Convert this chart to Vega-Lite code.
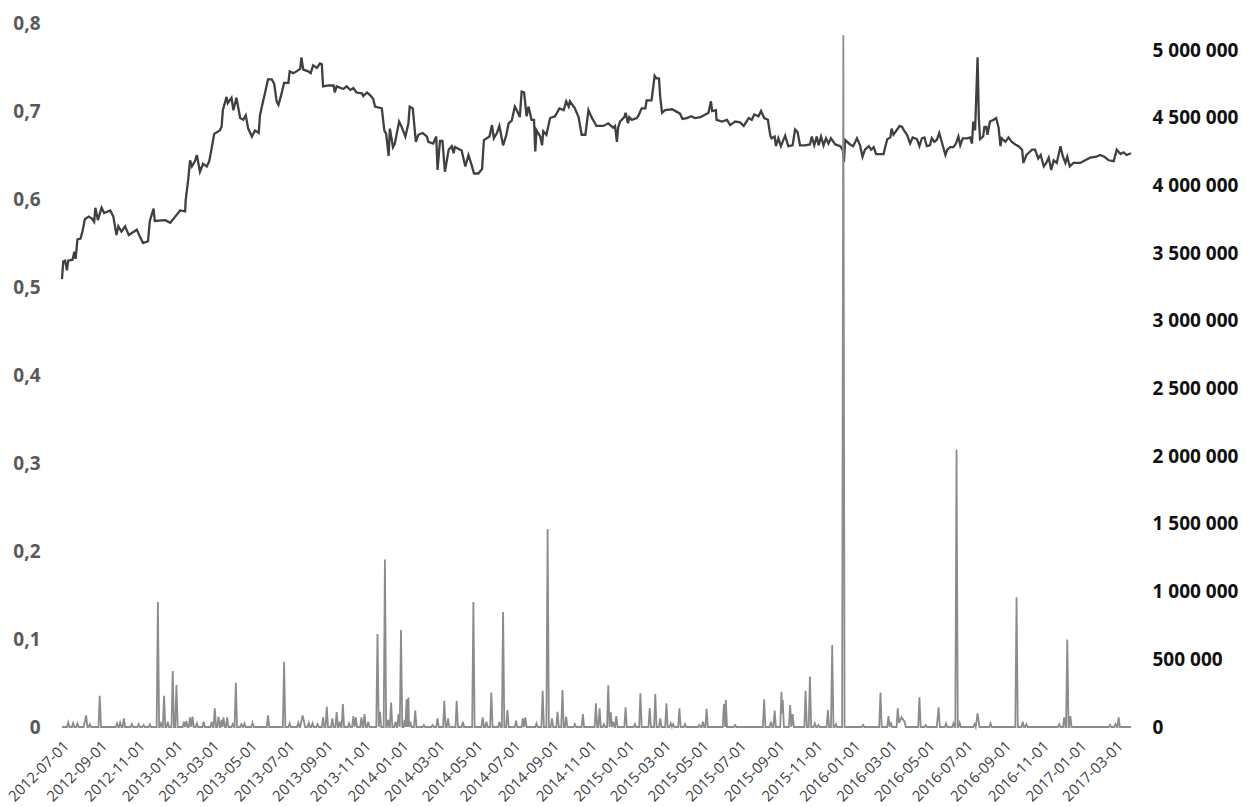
{
"$schema": "https://vega.github.io/schema/vega-lite/v6.json",
"width": 1069, "height": 704,
"autosize": {"type": "none"},
"padding": {"left": 62, "top": 23, "right": 116, "bottom": 80},
"background": "white",
"config": {"view": {"stroke": null}, "font": "Open Sans", "axisX": {"labelOverlap": false}},
"datasets": {
"price": [
{"date":"2012-07-01","price":0.509},{"date":"2012-07-03","price":0.529},{"date":"2012-07-06","price":0.530},{"date":"2012-07-09","price":0.519},{"date":"2012-07-11","price":0.530},{"date":"2012-07-18","price":0.531},{"date":"2012-07-21","price":0.540},{"date":"2012-07-23","price":0.532},{"date":"2012-07-26","price":0.554},{"date":"2012-07-31","price":0.555},
{"date":"2012-08-03","price":0.563},{"date":"2012-08-07","price":0.577},{"date":"2012-08-13","price":0.580},{"date":"2012-08-18","price":0.578},{"date":"2012-08-22","price":0.574},{"date":"2012-08-24","price":0.590},{"date":"2012-08-28","price":0.576},{"date":"2012-09-03","price":0.590},{"date":"2012-09-07","price":0.584},{"date":"2012-09-17","price":0.587},
{"date":"2012-09-22","price":0.580},{"date":"2012-09-27","price":0.559},{"date":"2012-09-30","price":0.569},{"date":"2012-10-05","price":0.563},{"date":"2012-10-11","price":0.569},{"date":"2012-10-17","price":0.559},{"date":"2012-10-30","price":0.565},{"date":"2012-11-04","price":0.557},{"date":"2012-11-09","price":0.550},{"date":"2012-11-17","price":0.552},
{"date":"2012-11-20","price":0.575},{"date":"2012-11-26","price":0.589},{"date":"2012-11-28","price":0.575},{"date":"2012-12-15","price":0.576},{"date":"2012-12-23","price":0.573},{"date":"2012-12-31","price":0.580},{"date":"2013-01-08","price":0.587},{"date":"2013-01-16","price":0.586},{"date":"2013-01-17","price":0.599},{"date":"2013-01-21","price":0.622},
{"date":"2013-01-24","price":0.644},{"date":"2013-01-27","price":0.637},{"date":"2013-02-01","price":0.643},{"date":"2013-02-04","price":0.650},{"date":"2013-02-09","price":0.631},{"date":"2013-02-14","price":0.640},{"date":"2013-02-20","price":0.637},{"date":"2013-02-24","price":0.643},{"date":"2013-02-28","price":0.658},{"date":"2013-03-04","price":0.674},
{"date":"2013-03-13","price":0.678},{"date":"2013-03-16","price":0.682},{"date":"2013-03-18","price":0.701},{"date":"2013-03-24","price":0.716},{"date":"2013-03-26","price":0.709},{"date":"2013-04-01","price":0.715},{"date":"2013-04-04","price":0.701},{"date":"2013-04-09","price":0.715},{"date":"2013-04-15","price":0.692},{"date":"2013-04-20","price":0.690},
{"date":"2013-04-24","price":0.695},{"date":"2013-04-28","price":0.680},{"date":"2013-05-04","price":0.671},{"date":"2013-05-09","price":0.678},{"date":"2013-05-15","price":0.675},{"date":"2013-05-17","price":0.695},{"date":"2013-05-22","price":0.711},{"date":"2013-05-25","price":0.720},{"date":"2013-05-30","price":0.736},{"date":"2013-06-05","price":0.736},
{"date":"2013-06-09","price":0.731},{"date":"2013-06-13","price":0.711},{"date":"2013-06-16","price":0.707},{"date":"2013-06-21","price":0.720},{"date":"2013-06-25","price":0.732},{"date":"2013-07-02","price":0.732},{"date":"2013-07-04","price":0.745},{"date":"2013-07-10","price":0.743},{"date":"2013-07-15","price":0.745},{"date":"2013-07-21","price":0.748},
{"date":"2013-07-23","price":0.761},{"date":"2013-07-26","price":0.747},{"date":"2013-08-03","price":0.745},{"date":"2013-08-07","price":0.743},{"date":"2013-08-11","price":0.752},{"date":"2013-08-17","price":0.749},{"date":"2013-08-22","price":0.754},{"date":"2013-08-25","price":0.753},{"date":"2013-08-27","price":0.728},{"date":"2013-09-05","price":0.729},
{"date":"2013-09-13","price":0.729},{"date":"2013-09-15","price":0.721},{"date":"2013-09-18","price":0.728},{"date":"2013-09-29","price":0.725},{"date":"2013-10-04","price":0.728},{"date":"2013-10-10","price":0.724},{"date":"2013-10-15","price":0.726},{"date":"2013-10-20","price":0.721},{"date":"2013-10-29","price":0.720},{"date":"2013-10-31","price":0.717},
{"date":"2013-11-06","price":0.721},{"date":"2013-11-11","price":0.718},{"date":"2013-11-16","price":0.714},{"date":"2013-11-19","price":0.705},{"date":"2013-11-30","price":0.703},{"date":"2013-12-04","price":0.678},{"date":"2013-12-07","price":0.674},{"date":"2013-12-11","price":0.649},{"date":"2013-12-13","price":0.680},{"date":"2013-12-18","price":0.659},
{"date":"2013-12-21","price":0.663},{"date":"2013-12-28","price":0.688},{"date":"2014-01-01","price":0.682},{"date":"2014-01-07","price":0.671},{"date":"2014-01-12","price":0.686},{"date":"2014-01-14","price":0.705},{"date":"2014-01-19","price":0.703},{"date":"2014-01-24","price":0.665},{"date":"2014-01-28","price":0.673},{"date":"2014-02-04","price":0.675},
{"date":"2014-02-11","price":0.671},{"date":"2014-02-13","price":0.665},{"date":"2014-02-21","price":0.663},{"date":"2014-02-26","price":0.671},{"date":"2014-02-28","price":0.633},{"date":"2014-03-04","price":0.666},{"date":"2014-03-08","price":0.666},{"date":"2014-03-12","price":0.631},{"date":"2014-03-18","price":0.656},{"date":"2014-03-23","price":0.660},
{"date":"2014-03-26","price":0.652},{"date":"2014-03-28","price":0.659},{"date":"2014-04-08","price":0.655},{"date":"2014-04-14","price":0.637},{"date":"2014-04-19","price":0.650},{"date":"2014-04-24","price":0.639},{"date":"2014-04-28","price":0.629},{"date":"2014-05-05","price":0.629},{"date":"2014-05-11","price":0.634},{"date":"2014-05-14","price":0.667},
{"date":"2014-05-23","price":0.671},{"date":"2014-05-27","price":0.684},{"date":"2014-05-30","price":0.669},{"date":"2014-06-04","price":0.675},{"date":"2014-06-08","price":0.683},{"date":"2014-06-14","price":0.661},{"date":"2014-06-19","price":0.672},{"date":"2014-06-23","price":0.686},{"date":"2014-06-28","price":0.689},{"date":"2014-07-03","price":0.705},
{"date":"2014-07-06","price":0.701},{"date":"2014-07-11","price":0.693},{"date":"2014-07-14","price":0.722},{"date":"2014-07-18","price":0.721},{"date":"2014-07-22","price":0.694},{"date":"2014-07-25","price":0.705},{"date":"2014-07-30","price":0.690},{"date":"2014-08-03","price":0.690},{"date":"2014-08-05","price":0.654},{"date":"2014-08-07","price":0.678},
{"date":"2014-08-13","price":0.671},{"date":"2014-08-16","price":0.661},{"date":"2014-08-18","price":0.677},{"date":"2014-08-23","price":0.673},{"date":"2014-08-29","price":0.692},{"date":"2014-09-06","price":0.694},{"date":"2014-09-13","price":0.703},{"date":"2014-09-20","price":0.701},{"date":"2014-09-24","price":0.711},{"date":"2014-09-28","price":0.705},
{"date":"2014-09-30","price":0.711},{"date":"2014-10-08","price":0.703},{"date":"2014-10-14","price":0.693},{"date":"2014-10-19","price":0.673},{"date":"2014-10-25","price":0.673},{"date":"2014-10-30","price":0.701},{"date":"2014-11-04","price":0.693},{"date":"2014-11-12","price":0.683},{"date":"2014-11-23","price":0.683},{"date":"2014-12-01","price":0.686},
{"date":"2014-12-09","price":0.681},{"date":"2014-12-12","price":0.683},{"date":"2014-12-15","price":0.665},{"date":"2014-12-17","price":0.681},{"date":"2014-12-20","price":0.688},{"date":"2014-12-27","price":0.693},{"date":"2014-12-29","price":0.698},{"date":"2015-01-02","price":0.686},{"date":"2015-01-04","price":0.693},{"date":"2015-01-08","price":0.690},
{"date":"2015-01-16","price":0.692},{"date":"2015-01-19","price":0.695},{"date":"2015-01-24","price":0.703},{"date":"2015-01-30","price":0.703},{"date":"2015-02-01","price":0.712},{"date":"2015-02-09","price":0.712},{"date":"2015-02-14","price":0.740},{"date":"2015-02-17","price":0.737},{"date":"2015-02-21","price":0.737},{"date":"2015-02-23","price":0.716},
{"date":"2015-02-26","price":0.698},{"date":"2015-03-03","price":0.701},{"date":"2015-03-14","price":0.702},{"date":"2015-03-22","price":0.699},{"date":"2015-03-27","price":0.697},{"date":"2015-03-31","price":0.691},{"date":"2015-04-07","price":0.692},{"date":"2015-04-14","price":0.694},{"date":"2015-04-20","price":0.692},{"date":"2015-04-29","price":0.693},
{"date":"2015-05-07","price":0.696},{"date":"2015-05-12","price":0.698},{"date":"2015-05-16","price":0.711},{"date":"2015-05-18","price":0.700},{"date":"2015-05-24","price":0.701},{"date":"2015-05-25","price":0.690},{"date":"2015-06-03","price":0.688},{"date":"2015-06-11","price":0.690},{"date":"2015-06-16","price":0.684},{"date":"2015-06-24","price":0.688},
{"date":"2015-07-02","price":0.687},{"date":"2015-07-08","price":0.683},{"date":"2015-07-16","price":0.692},{"date":"2015-07-21","price":0.690},{"date":"2015-07-25","price":0.696},{"date":"2015-08-01","price":0.694},{"date":"2015-08-05","price":0.700},{"date":"2015-08-10","price":0.692},{"date":"2015-08-16","price":0.690},{"date":"2015-08-20","price":0.672},
{"date":"2015-08-22","price":0.669},{"date":"2015-08-27","price":0.671},{"date":"2015-08-29","price":0.660},{"date":"2015-09-02","price":0.669},{"date":"2015-09-06","price":0.660},{"date":"2015-09-13","price":0.672},{"date":"2015-09-18","price":0.660},{"date":"2015-09-25","price":0.661},{"date":"2015-09-29","price":0.679},{"date":"2015-10-03","price":0.676},
{"date":"2015-10-07","price":0.661},{"date":"2015-10-15","price":0.661},{"date":"2015-10-23","price":0.662},{"date":"2015-10-26","price":0.671},{"date":"2015-10-30","price":0.661},{"date":"2015-11-03","price":0.671},{"date":"2015-11-06","price":0.661},{"date":"2015-11-10","price":0.671},{"date":"2015-11-14","price":0.661},{"date":"2015-11-18","price":0.669},
{"date":"2015-11-22","price":0.663},{"date":"2015-11-26","price":0.669},{"date":"2015-12-03","price":0.662},{"date":"2015-12-11","price":0.660},{"date":"2015-12-15","price":0.656},{"date":"2015-12-17","price":0.642},{"date":"2015-12-19","price":0.667},{"date":"2015-12-27","price":0.662},{"date":"2016-01-01","price":0.660},{"date":"2016-01-07","price":0.669},
{"date":"2016-01-12","price":0.661},{"date":"2016-01-16","price":0.648},{"date":"2016-01-20","price":0.656},{"date":"2016-01-26","price":0.660},{"date":"2016-01-30","price":0.656},{"date":"2016-02-03","price":0.659},{"date":"2016-02-07","price":0.651},{"date":"2016-02-19","price":0.651},{"date":"2016-02-22","price":0.660},{"date":"2016-02-25","price":0.668},
{"date":"2016-03-01","price":0.670},{"date":"2016-03-03","price":0.680},{"date":"2016-03-06","price":0.673},{"date":"2016-03-12","price":0.679},{"date":"2016-03-16","price":0.683},{"date":"2016-03-20","price":0.682},{"date":"2016-03-23","price":0.678},{"date":"2016-03-28","price":0.673},{"date":"2016-04-02","price":0.663},{"date":"2016-04-06","price":0.670},
{"date":"2016-04-13","price":0.668},{"date":"2016-04-17","price":0.660},{"date":"2016-04-21","price":0.669},{"date":"2016-04-25","price":0.670},{"date":"2016-04-29","price":0.660},{"date":"2016-05-04","price":0.661},{"date":"2016-05-07","price":0.669},{"date":"2016-05-11","price":0.665},{"date":"2016-05-15","price":0.667},{"date":"2016-05-19","price":0.675},
{"date":"2016-05-23","price":0.665},{"date":"2016-05-29","price":0.650},{"date":"2016-06-01","price":0.656},{"date":"2016-06-06","price":0.659},{"date":"2016-06-11","price":0.659},{"date":"2016-06-15","price":0.663},{"date":"2016-06-19","price":0.671},{"date":"2016-06-22","price":0.661},{"date":"2016-06-26","price":0.669},{"date":"2016-07-03","price":0.669},
{"date":"2016-07-08","price":0.670},{"date":"2016-07-11","price":0.663},{"date":"2016-07-13","price":0.688},{"date":"2016-07-16","price":0.678},{"date":"2016-07-20","price":0.761},{"date":"2016-07-22","price":0.692},{"date":"2016-07-24","price":0.668},{"date":"2016-07-29","price":0.671},{"date":"2016-07-31","price":0.682},{"date":"2016-08-03","price":0.682},
{"date":"2016-08-05","price":0.673},{"date":"2016-08-09","price":0.688},{"date":"2016-08-15","price":0.690},{"date":"2016-08-19","price":0.692},{"date":"2016-08-23","price":0.681},{"date":"2016-08-26","price":0.660},{"date":"2016-08-28","price":0.669},{"date":"2016-09-03","price":0.665},{"date":"2016-09-08","price":0.670},{"date":"2016-09-13","price":0.665},
{"date":"2016-09-19","price":0.662},{"date":"2016-09-24","price":0.660},{"date":"2016-09-30","price":0.656},{"date":"2016-10-02","price":0.641},{"date":"2016-10-07","price":0.650},{"date":"2016-10-10","price":0.652},{"date":"2016-10-16","price":0.656},{"date":"2016-10-21","price":0.656},{"date":"2016-10-26","price":0.646},{"date":"2016-10-30","price":0.650},
{"date":"2016-11-04","price":0.637},{"date":"2016-11-08","price":0.641},{"date":"2016-11-12","price":0.647},{"date":"2016-11-16","price":0.633},{"date":"2016-11-20","price":0.644},{"date":"2016-11-25","price":0.641},{"date":"2016-12-01","price":0.660},{"date":"2016-12-05","price":0.648},{"date":"2016-12-09","price":0.641},{"date":"2016-12-12","price":0.648},
{"date":"2016-12-16","price":0.637},{"date":"2016-12-22","price":0.641},{"date":"2017-01-02","price":0.641},{"date":"2017-01-10","price":0.644},{"date":"2017-01-18","price":0.647},{"date":"2017-01-28","price":0.648},{"date":"2017-02-03","price":0.650},{"date":"2017-02-10","price":0.648},{"date":"2017-02-17","price":0.644},{"date":"2017-02-25","price":0.643},
{"date":"2017-03-02","price":0.656},{"date":"2017-03-08","price":0.651},{"date":"2017-03-13","price":0.653},{"date":"2017-03-18","price":0.650},{"date":"2017-03-25","price":0.652}
],
"vol": [
{"date":"2012-07-01","vol":0},{"date":"2012-07-09","vol":0},{"date":"2012-07-11","vol":34000},{"date":"2012-07-13","vol":0},{"date":"2012-07-17","vol":0},{"date":"2012-07-19","vol":29000},{"date":"2012-07-21","vol":0},{"date":"2012-07-24","vol":0},{"date":"2012-07-26","vol":27000},{"date":"2012-07-28","vol":0},
{"date":"2012-08-05","vol":0},{"date":"2012-08-07","vol":39000},{"date":"2012-08-09","vol":86000},{"date":"2012-08-11","vol":0},{"date":"2012-08-13","vol":0},{"date":"2012-08-15","vol":22000},{"date":"2012-08-17","vol":0},{"date":"2012-08-29","vol":0},{"date":"2012-08-31","vol":231000},{"date":"2012-09-02","vol":0},
{"date":"2012-09-26","vol":0},{"date":"2012-09-28","vol":27000},{"date":"2012-09-30","vol":0},{"date":"2012-10-01","vol":0},{"date":"2012-10-03","vol":34000},{"date":"2012-10-05","vol":0},{"date":"2012-10-07","vol":0},{"date":"2012-10-09","vol":64000},{"date":"2012-10-11","vol":0},{"date":"2012-10-20","vol":0},
{"date":"2012-10-22","vol":22000},{"date":"2012-10-24","vol":0},{"date":"2012-10-31","vol":0},{"date":"2012-11-02","vol":22000},{"date":"2012-11-04","vol":0},{"date":"2012-11-08","vol":0},{"date":"2012-11-10","vol":15000},{"date":"2012-11-12","vol":0},{"date":"2012-11-18","vol":0},{"date":"2012-11-20","vol":20000},
{"date":"2012-11-22","vol":0},{"date":"2012-12-01","vol":0},{"date":"2012-12-03","vol":923000},{"date":"2012-12-05","vol":0},{"date":"2012-12-06","vol":0},{"date":"2012-12-08","vol":27000},{"date":"2012-12-10","vol":0},{"date":"2012-12-11","vol":0},{"date":"2012-12-13","vol":231000},{"date":"2012-12-15","vol":0},
{"date":"2012-12-17","vol":0},{"date":"2012-12-19","vol":39000},{"date":"2012-12-21","vol":0},{"date":"2012-12-25","vol":0},{"date":"2012-12-27","vol":413000},{"date":"2012-12-29","vol":0},{"date":"2012-12-31","vol":0},{"date":"2013-01-02","vol":310000},{"date":"2013-01-04","vol":0},{"date":"2013-01-12","vol":0},
{"date":"2013-01-14","vol":39000},{"date":"2013-01-16","vol":0},{"date":"2013-01-18","vol":44000},{"date":"2013-01-20","vol":0},{"date":"2013-01-22","vol":0},{"date":"2013-01-24","vol":71000},{"date":"2013-01-26","vol":0},{"date":"2013-01-28","vol":76000},{"date":"2013-01-30","vol":0},{"date":"2013-02-02","vol":0},
{"date":"2013-02-04","vol":27000},{"date":"2013-02-06","vol":0},{"date":"2013-02-13","vol":0},{"date":"2013-02-15","vol":39000},{"date":"2013-02-17","vol":0},{"date":"2013-02-26","vol":0},{"date":"2013-02-28","vol":39000},{"date":"2013-03-02","vol":0},{"date":"2013-03-03","vol":0},{"date":"2013-03-05","vol":138000},
{"date":"2013-03-07","vol":0},{"date":"2013-03-09","vol":0},{"date":"2013-03-11","vol":76000},{"date":"2013-03-13","vol":0},{"date":"2013-03-14","vol":0},{"date":"2013-03-16","vol":52000},{"date":"2013-03-17","vol":0},{"date":"2013-03-19","vol":71000},{"date":"2013-03-21","vol":0},{"date":"2013-03-23","vol":0},
{"date":"2013-03-25","vol":71000},{"date":"2013-03-27","vol":0},{"date":"2013-04-01","vol":0},{"date":"2013-04-03","vol":22000},{"date":"2013-04-05","vol":0},{"date":"2013-04-06","vol":0},{"date":"2013-04-08","vol":327000},{"date":"2013-04-10","vol":0},{"date":"2013-04-15","vol":0},{"date":"2013-04-17","vol":22000},
{"date":"2013-04-19","vol":0},{"date":"2013-04-20","vol":0},{"date":"2013-04-22","vol":27000},{"date":"2013-04-24","vol":0},{"date":"2013-05-03","vol":0},{"date":"2013-05-05","vol":32000},{"date":"2013-05-07","vol":0},{"date":"2013-05-28","vol":0},{"date":"2013-05-30","vol":86000},{"date":"2013-06-01","vol":0},
{"date":"2013-06-23","vol":0},{"date":"2013-06-25","vol":480000},{"date":"2013-06-27","vol":0},{"date":"2013-07-02","vol":0},{"date":"2013-07-04","vol":27000},{"date":"2013-07-06","vol":0},{"date":"2013-07-16","vol":0},{"date":"2013-07-18","vol":32000},{"date":"2013-07-20","vol":0},{"date":"2013-07-21","vol":0},
{"date":"2013-07-25","vol":86000},{"date":"2013-07-29","vol":0},{"date":"2013-08-02","vol":0},{"date":"2013-08-04","vol":32000},{"date":"2013-08-06","vol":0},{"date":"2013-08-08","vol":0},{"date":"2013-08-10","vol":27000},{"date":"2013-08-12","vol":0},{"date":"2013-08-16","vol":0},{"date":"2013-08-18","vol":22000},
{"date":"2013-08-20","vol":0},{"date":"2013-08-25","vol":0},{"date":"2013-08-27","vol":71000},{"date":"2013-08-29","vol":0},{"date":"2013-08-31","vol":0},{"date":"2013-09-02","vol":150000},{"date":"2013-09-04","vol":0},{"date":"2013-09-09","vol":0},{"date":"2013-09-11","vol":64000},{"date":"2013-09-13","vol":0},
{"date":"2013-09-16","vol":0},{"date":"2013-09-18","vol":111000},{"date":"2013-09-20","vol":0},{"date":"2013-09-21","vol":0},{"date":"2013-09-23","vol":39000},{"date":"2013-09-25","vol":0},{"date":"2013-09-26","vol":0},{"date":"2013-09-28","vol":170000},{"date":"2013-09-30","vol":0},{"date":"2013-10-06","vol":0},
{"date":"2013-10-08","vol":27000},{"date":"2013-10-10","vol":0},{"date":"2013-10-13","vol":0},{"date":"2013-10-15","vol":81000},{"date":"2013-10-17","vol":0},{"date":"2013-10-19","vol":71000},{"date":"2013-10-21","vol":0},{"date":"2013-10-26","vol":0},{"date":"2013-10-28","vol":71000},{"date":"2013-10-30","vol":0},
{"date":"2013-10-31","vol":0},{"date":"2013-11-02","vol":96000},{"date":"2013-11-04","vol":0},{"date":"2013-11-06","vol":0},{"date":"2013-11-08","vol":39000},{"date":"2013-11-10","vol":0},{"date":"2013-11-21","vol":0},{"date":"2013-11-23","vol":687000},{"date":"2013-11-25","vol":0},{"date":"2013-11-27","vol":113000},
{"date":"2013-11-29","vol":0},{"date":"2013-12-03","vol":0},{"date":"2013-12-05","vol":1238000},{"date":"2013-12-07","vol":0},{"date":"2013-12-08","vol":0},{"date":"2013-12-10","vol":52000},{"date":"2013-12-12","vol":0},{"date":"2013-12-13","vol":0},{"date":"2013-12-15","vol":180000},{"date":"2013-12-17","vol":0},
{"date":"2013-12-20","vol":0},{"date":"2013-12-22","vol":39000},{"date":"2013-12-24","vol":0},{"date":"2013-12-25","vol":0},{"date":"2013-12-27","vol":96000},{"date":"2013-12-29","vol":0},{"date":"2013-12-31","vol":716000},{"date":"2014-01-02","vol":0},{"date":"2014-01-04","vol":0},{"date":"2014-01-06","vol":52000},
{"date":"2014-01-07","vol":0},{"date":"2014-01-09","vol":204000},{"date":"2014-01-10","vol":0},{"date":"2014-01-12","vol":217000},{"date":"2014-01-13","vol":0},{"date":"2014-01-15","vol":39000},{"date":"2014-01-17","vol":0},{"date":"2014-01-21","vol":0},{"date":"2014-01-23","vol":121000},{"date":"2014-01-25","vol":0},
{"date":"2014-02-04","vol":0},{"date":"2014-02-06","vol":15000},{"date":"2014-02-08","vol":0},{"date":"2014-02-18","vol":0},{"date":"2014-02-20","vol":15000},{"date":"2014-02-22","vol":0},{"date":"2014-02-26","vol":0},{"date":"2014-02-28","vol":64000},{"date":"2014-03-02","vol":0},{"date":"2014-03-09","vol":0},
{"date":"2014-03-11","vol":194000},{"date":"2014-03-13","vol":0},{"date":"2014-03-15","vol":0},{"date":"2014-03-17","vol":64000},{"date":"2014-03-19","vol":0},{"date":"2014-03-29","vol":0},{"date":"2014-03-31","vol":194000},{"date":"2014-04-02","vol":0},{"date":"2014-04-08","vol":0},{"date":"2014-04-10","vol":39000},
{"date":"2014-04-12","vol":0},{"date":"2014-04-25","vol":0},{"date":"2014-04-27","vol":923000},{"date":"2014-04-29","vol":0},{"date":"2014-05-10","vol":0},{"date":"2014-05-12","vol":71000},{"date":"2014-05-14","vol":0},{"date":"2014-05-16","vol":0},{"date":"2014-05-18","vol":39000},{"date":"2014-05-20","vol":0},
{"date":"2014-05-24","vol":0},{"date":"2014-05-26","vol":254000},{"date":"2014-05-28","vol":0},{"date":"2014-06-06","vol":0},{"date":"2014-06-08","vol":39000},{"date":"2014-06-10","vol":0},{"date":"2014-06-12","vol":0},{"date":"2014-06-14","vol":849000},{"date":"2014-06-16","vol":0},{"date":"2014-06-19","vol":0},
{"date":"2014-06-21","vol":125000},{"date":"2014-06-23","vol":0},{"date":"2014-07-03","vol":0},{"date":"2014-07-05","vol":47000},{"date":"2014-07-07","vol":0},{"date":"2014-07-14","vol":0},{"date":"2014-07-16","vol":64000},{"date":"2014-07-18","vol":0},{"date":"2014-07-20","vol":71000},{"date":"2014-07-22","vol":0},
{"date":"2014-08-05","vol":0},{"date":"2014-08-07","vol":27000},{"date":"2014-08-09","vol":0},{"date":"2014-08-15","vol":0},{"date":"2014-08-17","vol":268000},{"date":"2014-08-19","vol":0},{"date":"2014-08-23","vol":0},{"date":"2014-08-25","vol":1462000},{"date":"2014-08-27","vol":0},{"date":"2014-08-30","vol":0},
{"date":"2014-09-01","vol":64000},{"date":"2014-09-03","vol":0},{"date":"2014-09-08","vol":0},{"date":"2014-09-10","vol":113000},{"date":"2014-09-12","vol":0},{"date":"2014-09-16","vol":0},{"date":"2014-09-18","vol":273000},{"date":"2014-09-20","vol":0},{"date":"2014-09-22","vol":0},{"date":"2014-09-24","vol":76000},
{"date":"2014-09-26","vol":0},{"date":"2014-10-06","vol":0},{"date":"2014-10-08","vol":22000},{"date":"2014-10-10","vol":0},{"date":"2014-10-19","vol":0},{"date":"2014-10-21","vol":96000},{"date":"2014-10-23","vol":0},{"date":"2014-11-09","vol":0},{"date":"2014-11-11","vol":175000},{"date":"2014-11-13","vol":0},
{"date":"2014-11-15","vol":0},{"date":"2014-11-17","vol":138000},{"date":"2014-11-19","vol":0},{"date":"2014-11-22","vol":0},{"date":"2014-11-24","vol":22000},{"date":"2014-11-26","vol":0},{"date":"2014-11-29","vol":0},{"date":"2014-12-01","vol":308000},{"date":"2014-12-03","vol":0},{"date":"2014-12-05","vol":108000},
{"date":"2014-12-07","vol":0},{"date":"2014-12-09","vol":39000},{"date":"2014-12-11","vol":0},{"date":"2014-12-12","vol":0},{"date":"2014-12-14","vol":81000},{"date":"2014-12-16","vol":0},{"date":"2014-12-27","vol":0},{"date":"2014-12-29","vol":145000},{"date":"2014-12-31","vol":0},{"date":"2015-01-11","vol":0},
{"date":"2015-01-13","vol":22000},{"date":"2015-01-15","vol":0},{"date":"2015-01-20","vol":0},{"date":"2015-01-22","vol":249000},{"date":"2015-01-24","vol":0},{"date":"2015-02-04","vol":0},{"date":"2015-02-06","vol":140000},{"date":"2015-02-08","vol":0},{"date":"2015-02-13","vol":0},{"date":"2015-02-15","vol":244000},
{"date":"2015-02-17","vol":0},{"date":"2015-02-21","vol":0},{"date":"2015-02-23","vol":64000},{"date":"2015-02-25","vol":0},{"date":"2015-03-03","vol":0},{"date":"2015-03-05","vol":175000},{"date":"2015-03-07","vol":0},{"date":"2015-03-10","vol":0},{"date":"2015-03-12","vol":27000},{"date":"2015-03-14","vol":0},
{"date":"2015-03-16","vol":22000},{"date":"2015-03-18","vol":0},{"date":"2015-03-24","vol":0},{"date":"2015-03-26","vol":138000},{"date":"2015-03-28","vol":0},{"date":"2015-04-02","vol":0},{"date":"2015-04-04","vol":22000},{"date":"2015-04-06","vol":0},{"date":"2015-04-25","vol":0},{"date":"2015-04-27","vol":15000},
{"date":"2015-04-29","vol":0},{"date":"2015-05-01","vol":0},{"date":"2015-05-03","vol":39000},{"date":"2015-05-05","vol":0},{"date":"2015-05-07","vol":0},{"date":"2015-05-09","vol":135000},{"date":"2015-05-11","vol":0},{"date":"2015-06-04","vol":0},{"date":"2015-06-06","vol":170000},{"date":"2015-06-08","vol":0},
{"date":"2015-06-09","vol":199000},{"date":"2015-06-11","vol":0},{"date":"2015-06-22","vol":0},{"date":"2015-06-24","vol":15000},{"date":"2015-06-26","vol":0},{"date":"2015-08-08","vol":0},{"date":"2015-08-10","vol":204000},{"date":"2015-08-12","vol":0},{"date":"2015-08-19","vol":0},{"date":"2015-08-21","vol":39000},
{"date":"2015-08-23","vol":0},{"date":"2015-08-25","vol":0},{"date":"2015-08-27","vol":121000},{"date":"2015-08-29","vol":0},{"date":"2015-09-05","vol":0},{"date":"2015-09-07","vol":261000},{"date":"2015-09-08","vol":100000},{"date":"2015-09-09","vol":199000},{"date":"2015-09-11","vol":0},{"date":"2015-09-19","vol":0},
{"date":"2015-09-21","vol":162000},{"date":"2015-09-23","vol":0},{"date":"2015-09-25","vol":96000},{"date":"2015-09-27","vol":0},{"date":"2015-10-14","vol":0},{"date":"2015-10-16","vol":268000},{"date":"2015-10-18","vol":0},{"date":"2015-10-21","vol":0},{"date":"2015-10-23","vol":372000},{"date":"2015-10-25","vol":0},
{"date":"2015-10-29","vol":0},{"date":"2015-10-31","vol":27000},{"date":"2015-11-02","vol":0},{"date":"2015-11-04","vol":0},{"date":"2015-11-06","vol":15000},{"date":"2015-11-08","vol":0},{"date":"2015-11-19","vol":0},{"date":"2015-11-21","vol":126000},{"date":"2015-11-23","vol":0},{"date":"2015-11-26","vol":0},
{"date":"2015-11-28","vol":606000},{"date":"2015-11-30","vol":0},{"date":"2015-12-02","vol":0},{"date":"2015-12-04","vol":22000},{"date":"2015-12-06","vol":0},{"date":"2015-12-14","vol":0},{"date":"2015-12-16","vol":5110000},{"date":"2015-12-18","vol":0},{"date":"2016-01-15","vol":0},{"date":"2016-01-17","vol":15000},
{"date":"2016-01-19","vol":0},{"date":"2016-02-12","vol":0},{"date":"2016-02-14","vol":254000},{"date":"2016-02-16","vol":0},{"date":"2016-02-25","vol":0},{"date":"2016-02-27","vol":81000},{"date":"2016-02-29","vol":0},{"date":"2016-03-02","vol":27000},{"date":"2016-03-04","vol":0},{"date":"2016-03-11","vol":0},
{"date":"2016-03-13","vol":138000},{"date":"2016-03-15","vol":30000},{"date":"2016-03-19","vol":71000},{"date":"2016-03-24","vol":39000},{"date":"2016-03-26","vol":0},{"date":"2016-04-15","vol":0},{"date":"2016-04-17","vol":219000},{"date":"2016-04-19","vol":0},{"date":"2016-04-25","vol":0},{"date":"2016-04-27","vol":15000},
{"date":"2016-04-29","vol":0},{"date":"2016-05-15","vol":0},{"date":"2016-05-18","vol":145000},{"date":"2016-05-20","vol":0},{"date":"2016-05-28","vol":0},{"date":"2016-05-30","vol":27000},{"date":"2016-06-01","vol":0},{"date":"2016-06-09","vol":0},{"date":"2016-06-11","vol":27000},{"date":"2016-06-13","vol":0},
{"date":"2016-06-14","vol":0},{"date":"2016-06-16","vol":2050000},{"date":"2016-06-18","vol":0},{"date":"2016-06-19","vol":0},{"date":"2016-06-21","vol":32000},{"date":"2016-06-23","vol":0},{"date":"2016-07-13","vol":0},{"date":"2016-07-15","vol":22000},{"date":"2016-07-17","vol":0},{"date":"2016-07-20","vol":101000},
{"date":"2016-07-23","vol":0},{"date":"2016-08-08","vol":0},{"date":"2016-08-10","vol":27000},{"date":"2016-08-12","vol":0},{"date":"2016-09-19","vol":0},{"date":"2016-09-21","vol":958000},{"date":"2016-09-23","vol":0},{"date":"2016-09-29","vol":0},{"date":"2016-10-01","vol":39000},{"date":"2016-10-03","vol":0},
{"date":"2016-10-05","vol":0},{"date":"2016-10-07","vol":22000},{"date":"2016-10-09","vol":0},{"date":"2016-11-27","vol":0},{"date":"2016-11-29","vol":22000},{"date":"2016-12-01","vol":0},{"date":"2016-12-05","vol":0},{"date":"2016-12-07","vol":71000},{"date":"2016-12-09","vol":0},{"date":"2016-12-10","vol":0},
{"date":"2016-12-12","vol":647000},{"date":"2016-12-14","vol":0},{"date":"2016-12-15","vol":0},{"date":"2016-12-17","vol":81000},{"date":"2016-12-19","vol":0},{"date":"2017-02-17","vol":0},{"date":"2017-02-19","vol":15000},{"date":"2017-02-21","vol":0},{"date":"2017-02-26","vol":0},{"date":"2017-02-28","vol":22000},
{"date":"2017-03-02","vol":0},{"date":"2017-03-03","vol":0},{"date":"2017-03-05","vol":71000},{"date":"2017-03-07","vol":0},{"date":"2017-03-25","vol":0}
]
},
"encoding": {
"x": {"field": "date", "type": "temporal",
"scale": {"type": "utc", "domain": [{"year": 2012, "month": 7, "date": 1, "utc": true}, {"year": 2017, "month": 3, "date": 25, "utc": true}]},
"axis": {"title": null, "format": "%Y-%m-%d", "labelAngle": -45, "labelAlign": "right", "labelBaseline": "middle",
"labelPadding": 16, "labelOffset": 4, "ticks": false, "tickSize": 0, "domain": false, "grid": false,
"labelFontSize": 15, "labelColor": "#404040", "labelFont": "Open Sans", "labelOverlap": false, "labelFlush": false, "labelBound": false, "labelSeparation": 0,
"values": [
{"year":2012,"month":7,"date":1,"utc":true},{"year":2012,"month":9,"date":1,"utc":true},{"year":2012,"month":11,"date":1,"utc":true},
{"year":2013,"month":1,"date":1,"utc":true},{"year":2013,"month":3,"date":1,"utc":true},{"year":2013,"month":5,"date":1,"utc":true},{"year":2013,"month":7,"date":1,"utc":true},{"year":2013,"month":9,"date":1,"utc":true},{"year":2013,"month":11,"date":1,"utc":true},
{"year":2014,"month":1,"date":1,"utc":true},{"year":2014,"month":3,"date":1,"utc":true},{"year":2014,"month":5,"date":1,"utc":true},{"year":2014,"month":7,"date":1,"utc":true},{"year":2014,"month":9,"date":1,"utc":true},{"year":2014,"month":11,"date":1,"utc":true},
{"year":2015,"month":1,"date":1,"utc":true},{"year":2015,"month":3,"date":1,"utc":true},{"year":2015,"month":5,"date":1,"utc":true},{"year":2015,"month":7,"date":1,"utc":true},{"year":2015,"month":9,"date":1,"utc":true},{"year":2015,"month":11,"date":1,"utc":true},
{"year":2016,"month":1,"date":1,"utc":true},{"year":2016,"month":3,"date":1,"utc":true},{"year":2016,"month":5,"date":1,"utc":true},{"year":2016,"month":7,"date":1,"utc":true},{"year":2016,"month":9,"date":1,"utc":true},{"year":2016,"month":11,"date":1,"utc":true},
{"year":2017,"month":1,"date":1,"utc":true},{"year":2017,"month":3,"date":1,"utc":true}
]}}
},
"layer": [
{
"data": {"name": "price"},
"mark": {"type": "line", "color": "#404040", "strokeWidth": 2.3},
"encoding": {
"y": {"field": "price", "type": "quantitative",
"scale": {"domain": [0, 0.8], "nice": false},
"axis": {"title": null, "values": [0, 0.1, 0.2, 0.3, 0.4, 0.5, 0.6, 0.7, 0.8], "format": ".1~f", "labelExpr": "replace(datum.label, '.', ',')",
"domain": false, "ticks": false, "tickSize": 0, "grid": false, "labelPadding": 22, "labelFontSize": 19, "labelFontWeight": "bold", "labelColor": "#595959", "labelFont": "Open Sans"}}
}
},
{
"data": {"name": "vol"},
"mark": {"type": "line", "color": "#8c8c8c", "strokeWidth": 1.8},
"encoding": {
"y": {"field": "vol", "type": "quantitative",
"scale": {"domain": [0, 5200000], "nice": false},
"axis": {"orient": "right", "title": null, "values": [0, 500000, 1000000, 1500000, 2000000, 2500000, 3000000, 3500000, 4000000, 4500000, 5000000],
"format": ",.0f", "labelExpr": "replace(replace(datum.label, ',', ' '), ',', ' ')",
"domain": false, "ticks": false, "tickSize": 0, "grid": false, "labelPadding": 21, "labelFontSize": 19, "labelFontWeight": "bold", "labelColor": "#111111", "labelFont": "Open Sans"}}
}
}
],
"resolve": {"scale": {"y": "independent"}}
}
